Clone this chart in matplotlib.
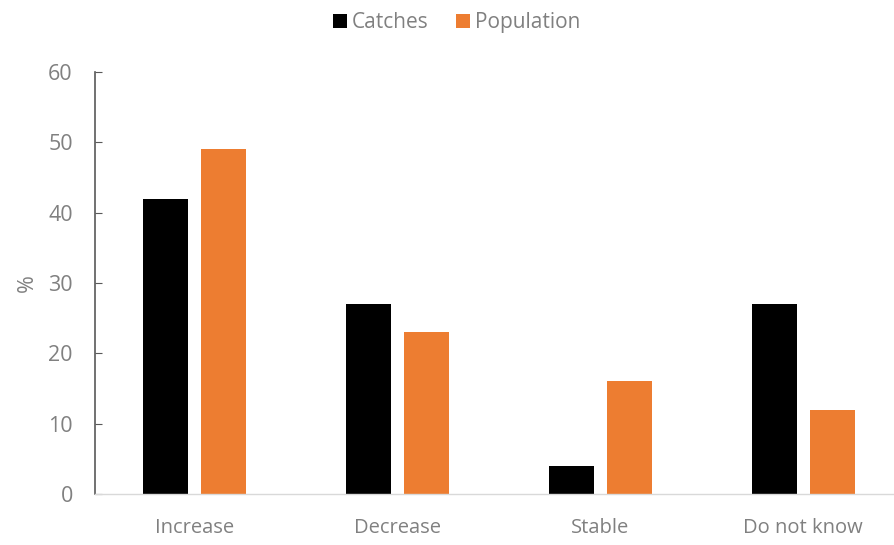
import numpy as np
import matplotlib
matplotlib.use("Agg")
import matplotlib.pyplot as plt

categories = ["Increase", "Decrease", "Stable", "Do not know"]
catches = [42, 27, 4, 27]
population = [49, 23, 16, 12]
series_names = ["Catches", "Population"]
yticks = [0, 10, 20, 30, 40, 50, 60]

plt.rcParams["font.family"] = ["Open Sans", "DejaVu Sans"]
text_color = "#808080"

fig = plt.figure(figsize=(8.94, 5.45), dpi=100)
ax = fig.add_axes([0.1063, 0.0936, 0.8937, 0.7744])

x = np.arange(len(categories))
w = 0.222
off = 0.143
ax.bar(x - off, catches, width=w, color="#000000", label=series_names[0])
ax.bar(x + off, population, width=w, color="#ED7D31", label=series_names[1])

ax.set_xlim(-0.488, 3.448)
ax.set_ylim(0, 60)
ax.set_yticks(yticks)
ax.set_xticks(x)
ax.set_xticklabels(categories)

for s in ["top", "right"]:
    ax.spines[s].set_visible(False)
ax.spines["left"].set_color("#595959")
ax.spines["left"].set_linewidth(1.2)
ax.spines["bottom"].set_color("#d9d9d9")
ax.spines["bottom"].set_linewidth(1.0)

ax.tick_params(axis="y", direction="in", length=5, color="#595959", labelsize=15.5,
               labelcolor=text_color, pad=16)
ax.tick_params(axis="x", length=0, labelsize=14.5, labelcolor=text_color, pad=17)

ax.set_ylabel("%", fontsize=15.5, color=text_color)
ax.yaxis.set_label_coords(-0.072, 0.5)

leg = fig.legend(loc="upper center", bbox_to_anchor=(0.511, 1.012), ncol=2, frameon=False,
                 fontsize=15, handlelength=0.65, handleheight=0.65, handletextpad=0.25,
                 columnspacing=1.3)
for t in leg.get_texts():
    t.set_color(text_color)

fig.savefig("out.png", dpi=100)
